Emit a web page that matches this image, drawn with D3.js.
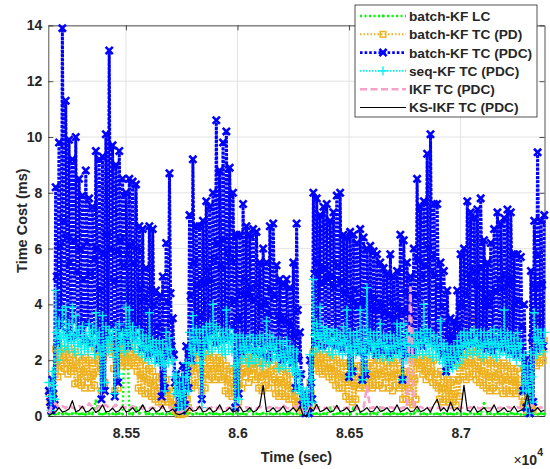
<!DOCTYPE html>
<html><head><meta charset="utf-8">
<script src="https://cdn.jsdelivr.net/npm/d3@7"></script>
<style>
body{margin:0;background:#fff}
svg{display:block}
text{font-family:"Liberation Sans",Arial,Helvetica,sans-serif;font-weight:bold;fill:#262626}
</style>
</head><body>
<svg id="c" width="550" height="469"></svg>
<script>
// ---------------- data ----------------
const seriesNames = ["batch-KF LC","batch-KF TC (PD)","batch-KF TC (PDC)","seq-KF TC (PDC)","IKF TC (PDC)","KS-IKF TC (PDC)"];
const timeStart = 85155;      // sec
const bandStep = 5;           // sample step of the three dense series
const lowStep = 15;           // sample step of the three low series
const xTickValues = [85500, 86000, 86500, 87000];
const xTickLabels = ["8.55", "8.6", "8.65", "8.7"];
const yTickValues = [0, 2, 4, 6, 8, 10, 12, 14];
const xDomain = [85152, 87376];
const yDomain = [0, 14];

const batchKF_LC = [
0.05,0.08,0.06,0.1,0.07,0.09,0.06,0.08,0.1,0.07,
0.08,0.06,0.09,0.07,0.55,0.08,0.06,0.1,0.07,0.08,
0.06,0.09,0.07,4.9,0.08,0.06,0.3,0.09,0.35,0.07,
0.08,0.06,0.1,0.07,0.08,0.06,0.09,0.07,0.05,0.06,
0.07,0.08,0.1,0.06,0.09,0.07,0.08,0.06,0.1,0.07,
0.08,0.06,0.09,0.07,0.08,0.06,0.1,0.07,0.08,0.06,
0.25,0.07,0.08,0.06,0.1,0.07,0.08,0.06,0.09,0.07,
0.08,0.06,0.1,0.07,0.08,0.05,0.06,0.05,0.08,0.07,
0.09,0.06,0.08,0.07,0.3,0.06,0.08,0.1,0.07,0.08,
0.06,0.3,0.07,0.09,0.06,0.08,0.07,0.1,0.06,0.3,
0.07,0.08,0.06,0.09,0.07,0.08,0.06,0.1,0.07,0.08,
0.2,0.07,0.08,0.06,0.09,0.07,0.08,0.06,0.1,0.07,
0.08,0.06,0.09,0.07,0.08,0.06,0.1,0.07,0.08,0.06,
0.45,0.07,0.08,0.06,0.09,0.07,0.08,0.06,0.1,0.07,
0.08,0.06,0.05,0.06,0.07,0.08,0.06,0.09,0.07];

const batchKF_TC_PD = [
0.8,0.5,0.2, 1.2,0.8,0.4, 2.4,1.9,1.4, 2.5,2.0,1.6, 2.4,2.1,1.7, 2.3,1.9,1.5, 2.4,2.0,1.6, 2.2,1.7,1.15, 2.3,1.8,1.2, 2.1,1.5,1.1,
2.0,1.6,1.0, 2.1,1.7,1.2, 2.0,1.4,1.0, 1.9,1.5,1.1, 2.4,2.0,1.6, 2.8,1.8,0.9, 3.0,2.1,1.2, 3.3,2.8,2.4, 3.2,2.7,2.3, 2.6,1.7,0.9,
2.5,1.8,1.0, 2.6,2.2,1.8, 2.5,2.2,1.9, 2.6,2.1,1.8, 2.6,2.3,1.9, 2.5,2.1,1.8, 2.2,1.6,1.0, 2.1,1.5,0.9, 2.0,1.4,0.8, 1.8,1.3,0.8,
1.7,1.2,0.7, 1.6,1.1,0.6, 1.4,0.9,0.5, 1.4,1.0,0.5, 1.5,1.0,0.6, 1.3,0.9,0.5, 1.0,0.7,0.4, 0.6,0.4,0.2, 0.3,0.15,0.05, 0.2,0.1,0.05,
0.4,0.25,0.1, 1.0,0.6,0.3, 2.3,1.6,1.0, 2.3,1.7,1.1, 2.2,1.7,1.2, 2.2,1.5,0.9, 2.1,1.5,1.0, 2.1,1.7,1.3, 2.2,1.8,1.4, 2.1,1.7,1.3,
2.0,1.7,1.4, 2.1,1.7,1.3, 2.0,1.4,0.9, 1.8,1.3,0.8, 1.7,1.2,0.7, 1.6,1.0,0.3, 1.8,1.1,0.5, 2.1,1.5,1.0, 2.0,1.7,1.4, 2.1,1.6,1.2,
2.0,1.7,1.5, 2.1,1.7,1.3, 1.9,1.4,1.0, 2.0,1.4,0.9, 1.9,1.5,1.1, 2.0,1.5,1.0, 2.1,1.6,1.2, 1.8,1.3,0.8, 1.7,1.2,0.7, 1.8,1.3,0.8,
1.7,1.2,0.7, 1.6,1.1,0.6, 1.5,1.0,0.6, 1.0,0.7,0.4, 0.7,0.5,0.3, 0.5,0.35,0.2, 0.4,0.3,0.2, 0.5,0.4,0.3, 1.2,0.8,0.4, 2.3,2.0,1.7,
2.2,1.9,1.6, 2.3,1.9,1.5, 2.2,1.9,1.6, 2.1,1.7,1.4, 2.2,1.7,1.3, 2.1,1.6,1.1, 2.0,1.5,1.0, 1.9,1.4,1.0, 1.9,1.3,0.7, 1.8,1.2,0.6,
1.9,1.2,0.5, 1.7,1.1,0.6, 1.8,1.4,1.0, 1.8,1.4,1.1, 1.7,1.3,1.0, 1.8,1.4,1.1, 1.9,1.4,1.0, 1.8,1.5,1.1, 2.0,1.5,1.1, 2.0,1.5,1.0,
2.1,1.6,1.2, 1.9,1.4,1.0, 2.0,1.4,0.9, 1.9,1.5,1.1, 2.0,1.5,1.0, 1.7,1.1,0.6, 1.6,1.1,0.6, 1.5,1.0,0.5, 4.1,1.2,0.4, 2.0,1.3,0.6,
2.1,1.9,1.7, 2.1,1.8,1.5, 2.0,1.6,1.3, 2.1,1.7,1.4, 2.0,1.6,1.2, 2.0,1.5,1.1, 1.5,1.0,0.6, 1.6,1.0,0.5, 1.4,1.0,0.6, 1.3,0.9,0.5,
1.2,0.8,0.5, 1.3,0.8,0.4, 1.9,1.3,0.7, 2.2,1.8,1.4, 2.3,1.8,1.3, 3.7,1.9,1.4, 2.4,1.9,1.5, 3.6,1.8,1.3, 2.3,1.7,1.2, 2.1,1.6,1.1,
2.0,1.5,1.0, 2.0,1.4,0.9, 1.9,1.4,1.0, 2.0,1.4,0.9, 1.9,1.5,1.1, 1.8,1.3,0.8, 1.9,1.4,0.9, 1.8,1.3,0.8, 1.7,1.3,0.9, 1.6,1.2,0.8,
1.7,1.3,0.9, 1.0,0.7,0.4, 0.5,0.35,0.2, 0.4,0.3,0.2, 0.5,0.35,0.2, 2.5,2.1,1.8, 3.6,2.4,1.9, 2.6,2.3,2.0, 2.7];

const batchKF_TC_PDC = [
0.9,0.5,0.2, 1.3,0.8,0.4, 8.2,5.0,2.6, 9.8,6.1,3.2, 13.9,7.0,3.5, 11.3,6.4,3.0, 9.9,5.5,2.8, 9.2,6.3,3.4, 10.0,5.2,2.9, 8.5,6.0,3.1,
7.9,4.9,2.7, 8.8,6.2,3.3, 7.8,5.1,2.6, 7.5,5.6,3.0, 9.5,6.0,2.4, 9.2,4.5,0.6, 9.3,5.8,0.9, 10.1,6.5,2.8, 13.1,6.0,3.2, 9.7,4.8,0.7,
9.0,5.9,1.2, 9.5,6.3,3.1, 8.5,5.4,2.7, 8.0,5.8,2.5, 8.5,6.1,3.0, 8.4,5.5,2.8, 8.3,6.0,3.2, 6.8,4.6,2.4, 6.7,4.2,2.6, 5.3,3.8,2.2,
6.8,4.5,2.5, 6.7,4.0,2.3, 4.5,3.2,2.0, 4.3,2.5,0.7, 5.0,3.0,1.0, 6.2,4.1,2.2, 8.7,4.4,2.5, 3.5,2.2,1.2, 1.5,0.9,0.3, 1.3,0.7,0.2,
1.8,1.0,0.4, 2.5,1.6,1.0, 7.2,4.3,2.0, 9.2,5.5,2.6, 6.8,4.7,2.4, 6.8,3.6,0.6, 7.0,4.8,2.5, 7.7,5.2,2.8, 7.5,4.9,3.0, 8.0,5.6,2.6,
10.6,6.2,3.1, 8.8,5.4,2.7, 9.8,6.3,3.0, 10.2,5.9,2.8, 8.9,5.6,3.2, 8.0,4.1,0.3, 6.5,3.5,0.8, 6.5,4.4,2.3, 7.6,4.9,2.6, 6.8,4.3,2.4,
6.5,4.6,2.7, 6.7,4.2,2.3, 6.6,4.7,2.6, 5.5,3.9,2.2, 6.0,4.1,2.5, 5.5,3.7,2.1, 6.8,4.5,2.4, 6.9,4.3,2.6, 5.4,3.6,2.2, 4.9,3.4,2.0,
4.7,3.5,2.3, 4.9,3.3,2.1, 4.6,3.2,1.9, 5.5,2.9,1.0, 6.9,3.8,2.0, 3.0,1.5,0.4, 0.8,0.4,0.1, 0.5,0.3,0.1, 2.0,1.2,0.6, 8.0,5.1,2.6,
7.8,5.5,2.9, 7.2,4.8,2.5, 7.5,5.3,2.8, 7.6,4.9,2.6, 7.0,5.0,2.9, 7.3,4.6,2.5, 7.9,5.4,2.7, 8.0,4.8,2.4, 6.5,4.4,2.6, 6.4,3.8,1.4,
6.6,4.2,1.6, 6.5,4.5,2.5, 6.2,4.0,2.3, 6.7,3.9,1.3, 6.4,4.1,1.5, 6.0,4.3,2.4, 6.1,3.9,2.6, 5.9,4.2,2.2, 5.8,3.8,2.5, 5.5,4.0,2.3,
5.3,3.7,2.6, 5.1,3.6,2.2, 5.8,4.1,2.5, 5.0,3.5,2.3, 5.2,3.9,2.4, 6.5,3.7,1.3, 6.3,4.4,2.2, 5.5,3.8,2.5, 5.0,3.6,2.3, 6.0,4.3,2.6,
8.5,5.6,2.8, 7.5,5.0,2.5, 7.7,5.4,2.9, 9.4,6.0,2.7, 10.1,5.7,3.0, 7.6,5.1,2.6, 7.6,4.6,2.4, 5.5,3.9,2.2, 5.2,3.3,1.6, 4.5,3.0,1.8,
3.5,2.7,2.0, 3.4,2.8,2.1, 4.5,3.2,2.3, 5.8,4.0,2.5, 6.0,4.4,2.6, 7.7,5.1,2.8, 7.3,4.8,2.6, 7.1,5.2,2.9, 7.4,4.7,2.5, 7.8,5.3,2.7,
6.3,4.2,2.4, 5.5,4.0,2.6, 6.2,4.3,2.3, 6.7,4.5,2.5, 7.3,4.9,2.7, 6.9,4.6,2.4, 7.1,5.0,2.6, 7.4,4.7,2.3, 7.3,4.9,2.5, 5.8,4.0,2.2,
5.8,4.1,2.4, 5.7,3.2,0.9, 4.0,2.0,0.3, 1.8,0.9,0.1, 5.2,2.8,0.5, 7.0,4.6,2.4, 9.45,5.8,2.7, 7.0,4.7,2.5, 7.2];

const seqKF_TC_PDC = [
1.2,0.7,0.2, 1.6,1.1,0.6, 4.5,3.0,2.0, 3.4,2.8,2.3, 3.8,2.9,2.5, 3.9,2.8,2.4, 3.3,2.9,2.6, 3.9,2.7,2.3, 3.6,2.9,2.5, 3.1,2.6,2.2,
3.2,2.8,2.4, 3.0,2.6,2.3, 3.3,2.9,2.5, 3.1,2.6,2.2, 3.7,2.8,2.4, 3.0,2.2,0.9, 3.6,2.5,1.2, 3.2,2.7,2.3, 3.1,2.8,2.4, 3.0,2.1,0.8,
3.1,2.4,1.5, 3.3,2.8,2.4, 3.0,2.6,2.3, 3.9,2.9,2.5, 3.8,3.0,2.6, 3.2,2.8,2.4, 3.0,2.7,2.3, 3.1,2.6,2.2, 2.9,2.5,2.1, 2.8,2.4,2.0,
3.7,2.5,2.1, 2.7,2.3,1.9, 2.6,2.3,2.0, 2.7,2.2,1.8, 2.6,1.9,0.9, 3.0,2.4,1.9, 2.8,2.4,2.0, 2.0,1.4,0.8, 1.5,0.9,0.3, 1.2,0.7,0.2,
1.4,0.9,0.4, 1.9,1.4,0.9, 3.0,2.4,1.9, 3.6,2.7,2.2, 3.1,2.7,2.3, 3.0,1.9,0.3, 3.1,2.6,2.2, 3.2,2.8,2.4, 3.3,2.7,2.3, 4.0,2.9,2.5,
3.2,2.8,2.4, 3.1,2.7,2.3, 3.0,2.6,2.2, 3.8,2.8,2.4, 3.1,2.7,2.3, 2.9,1.8,0.3, 2.8,1.9,0.6, 2.9,2.4,2.0, 2.8,2.5,2.1, 2.7,2.3,1.9,
2.9,2.4,2.0, 2.8,2.3,1.9, 2.7,2.4,2.1, 2.9,2.3,1.8, 2.8,2.4,2.0, 3.4,2.5,1.9, 2.9,2.5,2.1, 2.8,2.4,2.0, 2.6,2.1,1.7, 2.7,2.2,1.8,
2.6,2.1,1.7, 2.7,2.3,1.9, 2.5,2.0,1.6, 2.4,1.7,0.9, 2.3,1.6,1.0, 1.5,0.8,0.3, 1.0,0.6,0.2, 0.9,0.5,0.1, 2.2,1.3,0.5, 4.9,2.9,2.3,
3.3,2.9,2.5, 3.9,2.8,2.4, 3.2,2.9,2.6, 3.1,2.7,2.3, 3.0,2.6,2.2, 3.1,2.8,2.4, 3.0,2.6,2.3, 2.9,2.6,2.2, 3.2,2.7,2.3, 3.8,2.5,1.4,
3.0,2.3,1.6, 2.9,2.5,2.2, 3.0,2.6,2.3, 3.8,2.4,1.3, 3.1,2.4,1.6, 4.6,2.7,2.2, 3.0,2.6,2.3, 2.9,2.5,2.1, 3.0,2.6,2.2, 3.3,2.6,2.1,
2.9,2.5,2.2, 2.8,2.4,2.0, 2.9,2.5,2.1, 2.8,2.5,2.2, 3.3,2.6,2.1, 3.2,2.3,1.3, 3.3,2.6,2.0, 3.0,2.6,2.2, 2.9,2.5,2.1, 3.0,2.6,2.2,
2.9,2.6,2.3, 3.0,2.6,2.2, 4.0,2.8,2.3, 3.1,2.6,2.2, 3.0,2.5,2.1, 2.9,2.5,2.2, 2.8,2.4,2.0, 3.4,2.5,1.9, 2.6,2.1,1.6, 2.5,2.1,1.8,
2.4,2.0,1.7, 2.5,2.1,1.8, 2.7,2.3,1.9, 2.9,2.5,2.1, 3.0,2.6,2.2, 2.9,2.6,2.3, 3.0,2.6,2.2, 3.1,2.7,2.3, 2.9,2.5,2.2, 3.0,2.5,2.1,
3.0,2.6,2.2, 2.9,2.6,2.3, 3.0,2.6,2.2, 3.1,2.6,2.1, 2.9,2.5,2.2, 3.0,2.6,2.3, 3.8,2.7,2.2, 3.0,2.5,2.1, 2.9,2.5,2.2, 2.8,2.4,2.0,
3.0,2.5,2.1, 2.6,1.8,0.9, 2.2,1.2,0.3, 1.8,0.9,0.1, 2.3,1.4,0.5, 3.7,2.8,2.2, 3.1,2.7,2.4, 3.0,2.6,2.3, 3.0];

const IKF_TC_PDC = [
0.1,0.4,0.45,0.3,0.35,0.28,0.4,0.3,0.25,0.35,
0.3,0.28,0.45,0.3,0.26,0.35,0.3,0.4,0.28,0.3,
0.4,0.27,0.32,0.3,0.26,0.35,0.29,0.31,0.27,0.33,
0.28,0.3,0.26,0.34,0.29,0.27,0.32,0.2,0.15,0.12,
0.18,0.25,0.3,0.28,0.33,0.27,0.31,0.29,0.26,0.35,
0.3,0.27,0.32,0.28,0.3,0.26,0.34,0.29,0.27,0.31,
0.28,0.3,0.26,0.33,0.29,0.27,0.32,0.28,0.3,0.26,
0.4,0.29,0.27,0.31,0.35,0.4,0.1,0.1,0.35,0.3,
0.28,0.32,0.27,0.3,0.26,0.33,0.29,0.31,0.27,0.3,
0.28,0.32,0.26,0.3,0.29,1.05,0.28,0.31,0.27,0.3,
0.29,0.26,0.32,0.28,0.3,0.27,0.31,0.29,4.6,0.3,
0.28,0.32,0.27,0.3,0.26,0.33,0.29,0.31,0.27,0.3,
0.28,0.32,0.26,0.3,0.29,0.27,0.31,0.28,0.3,0.26,
0.33,0.29,0.27,0.31,0.28,0.3,0.26,0.32,0.29,0.27,
0.31,0.28,0.3,0.35,0.4,0.3,0.27,0.31,0.29];

const KS_IKF_TC_PDC = [
0.02,0.1,0.15,0.3,0.14,0.18,0.25,0.55,0.15,0.2,
0.35,0.14,0.18,0.3,0.13,0.2,0.4,0.15,0.17,0.28,
0.14,0.19,0.35,0.15,0.18,0.3,0.14,0.2,0.4,0.16,
0.18,0.3,0.15,0.2,0.38,0.14,0.17,0.25,0.08,0.05,
0.1,0.15,0.3,0.17,0.2,0.35,0.15,0.18,0.3,0.14,
0.2,0.4,0.15,0.18,0.3,0.14,0.19,0.35,0.15,0.18,
0.3,0.14,0.2,0.38,1.1,0.16,0.18,0.3,0.15,0.2,
0.35,0.14,0.18,0.3,0.15,0.35,0.02,0.0,0.3,0.18,
0.42,0.15,0.2,0.3,0.14,0.18,0.38,0.16,0.2,0.3,
0.15,0.18,0.4,0.14,0.2,0.3,0.15,0.18,0.35,0.16,
0.2,0.3,0.14,0.18,0.4,0.15,0.2,0.3,0.16,0.18,
0.35,0.15,0.2,0.3,0.14,0.4,0.6,0.18,0.3,0.15,
0.5,0.18,0.3,0.15,1.1,0.2,0.16,0.35,0.14,0.2,
0.3,0.15,0.18,0.4,0.14,0.2,0.3,0.16,0.18,0.35,
0.15,0.2,0.3,0.8,0.15,0.18,0.3,0.16,0.2];

// ---------------- layout ----------------
const M = {l:48.3, r:544.5, t:25.4, b:416};
const svg = d3.select("#c");
const x = d3.scaleLinear().domain(xDomain).range([M.l, M.r]);
const y = d3.scaleLinear().domain(yDomain).range([M.b, M.t]);
const axisColor = "#262626";

// grid
const grid = svg.append("g");
grid.selectAll("line.gx").data(xTickValues).join("line")
  .attr("x1", d => x(d)).attr("x2", d => x(d)).attr("y1", M.t).attr("y2", M.b)
  .attr("stroke", "#dcdcdc").attr("stroke-width", 0.8);
grid.selectAll("line.gy").data(yTickValues).join("line")
  .attr("y1", d => y(d)).attr("y2", d => y(d)).attr("x1", M.l).attr("x2", M.r)
  .attr("stroke", "#dcdcdc").attr("stroke-width", 0.8);

// axes
function styleAxis(g, labels){
  g.select(".domain").attr("stroke", axisColor).attr("stroke-width", 0.8);
  g.selectAll(".tick line").attr("stroke", axisColor).attr("stroke-width", 0.8);
  g.selectAll(".tick text").attr("font-size", 14).attr("font-weight", "bold")
    .attr("font-family", '"Liberation Sans",Arial,sans-serif').attr("fill", axisColor);
  if (!labels) g.selectAll(".tick text").remove();
}
const fmtX = (d) => xTickLabels[xTickValues.indexOf(d)];
svg.append("g").attr("transform", `translate(0,${M.b})`)
  .call(d3.axisBottom(x).tickValues(xTickValues).tickFormat(fmtX).tickSizeInner(-5).tickSizeOuter(0).tickPadding(12))
  .call(g => styleAxis(g, true));
svg.append("g").attr("transform", `translate(0,${M.t})`)
  .call(d3.axisTop(x).tickValues(xTickValues).tickSizeInner(-5).tickSizeOuter(0))
  .call(g => styleAxis(g, false));
svg.append("g").attr("transform", `translate(${M.l},0)`)
  .call(d3.axisLeft(y).tickValues(yTickValues).tickFormat(d3.format("d")).tickSizeInner(-5).tickSizeOuter(0).tickPadding(6))
  .call(g => styleAxis(g, true));
svg.append("g").attr("transform", `translate(${M.r},0)`)
  .call(d3.axisRight(y).tickValues(yTickValues).tickSizeInner(-5).tickSizeOuter(0))
  .call(g => styleAxis(g, false));

// axis labels
svg.append("text").attr("x", (M.l + M.r) / 2).attr("y", 462).attr("text-anchor", "middle")
  .attr("font-size", 14.5).text("Time (sec)");
svg.append("text").attr("transform", `translate(27,${(M.t + M.b) / 2}) rotate(-90)`)
  .attr("text-anchor", "middle").attr("font-size", 14.5).text("Time Cost (ms)");
const mult = svg.append("text").attr("x", 543).attr("y", 465).attr("text-anchor", "end").attr("font-size", 14);
mult.append("tspan").attr("font-weight", "normal").text("\u00d7");
mult.append("tspan").text("10");
mult.append("tspan").attr("dy", -9).attr("font-size", 10.5).text("4");

// ---------------- series ----------------
const markers = {
  dot:    (g, c) => g.append("circle").attr("r", 1.4).attr("fill", c),
  square: (g, c) => g.append("rect").attr("x", -2.8).attr("y", -2.8).attr("width", 5.6).attr("height", 5.6)
                      .attr("fill", "none").attr("stroke", c).attr("stroke-width", 1.5),
  cross:  (g, c) => g.append("path").attr("d", "M-3.6,-3.6L3.6,3.6M-3.6,3.6L3.6,-3.6")
                      .attr("stroke", c).attr("stroke-width", 2.6).attr("fill", "none"),
  plus:   (g, c) => g.append("path").attr("d", "M-4.6,0H4.6M0,-4.6V4.6")
                      .attr("stroke", c).attr("stroke-width", 1.3).attr("fill", "none"),
  none:   null
};
const series = [
  {name: seriesNames[0], values: batchKF_LC,     step: lowStep,  color: "#00ff00", width: 2.4, dash: "2,2.5",  legendDash: "2,2.5", marker: "dot"},
  {name: seriesNames[1], values: batchKF_TC_PD,  step: bandStep, color: "#edb120", width: 2.0, dash: "2,1.2",  legendDash: "1.5,2", marker: "square"},
  {name: seriesNames[2], values: batchKF_TC_PDC, step: bandStep, color: "#0000ff", width: 3.0, dash: "3,1.2",  legendDash: "2.6,2", marker: "cross"},
  {name: seriesNames[3], values: seqKF_TC_PDC,   step: bandStep, color: "#00f0f0", width: 1.7, dash: "2,1",    legendDash: "1.5,1.5", marker: "plus"},
  {name: seriesNames[4], values: IKF_TC_PDC,     step: lowStep,  color: "#f7a1c8", width: 2.6, dash: "7,3.5",  legendDash: "7,3.5", marker: "none"},
  {name: seriesNames[5], values: KS_IKF_TC_PDC,  step: lowStep,  color: "#000000", width: 1.2, dash: null,     legendDash: null, marker: "none"}
];
const dataG = svg.append("g");
series.forEach(s => {
  const pts = s.values.map((v, i) => ({t: timeStart + i * s.step, v}));
  const line = d3.line().x(d => x(d.t)).y(d => y(d.v));
  dataG.append("path").datum(pts).attr("d", line).attr("fill", "none")
    .attr("stroke", s.color).attr("stroke-width", s.width)
    .attr("stroke-dasharray", s.dash).attr("stroke-linejoin", "round");
  if (markers[s.marker]) {
    const mg = dataG.append("g");
    pts.forEach(d => {
      const g = mg.append("g").attr("transform", `translate(${x(d.t)},${y(d.v)})`);
      markers[s.marker](g, s.color);
    });
  }
});

// ---------------- legend ----------------
const lg = svg.append("g");
lg.append("rect").attr("x", 355).attr("y", 5).attr("width", 182).attr("height", 112)
  .attr("fill", "#fff").attr("stroke", axisColor).attr("stroke-width", 0.8);
series.forEach((s, i) => {
  const yy = 16 + i * 18.3;
  lg.append("line").attr("x1", 360).attr("x2", 406).attr("y1", yy).attr("y2", yy)
    .attr("stroke", s.color).attr("stroke-width", Math.min(s.width, 2.6)).attr("stroke-dasharray", s.legendDash);
  if (markers[s.marker]) {
    const g = lg.append("g").attr("transform", `translate(383,${yy})`);
    markers[s.marker](g, s.color);
  }
  lg.append("text").attr("x", 409).attr("y", yy).attr("dy", "0.36em")
    .attr("font-size", 13.7).text(s.name);
});
</script>
</body></html>
